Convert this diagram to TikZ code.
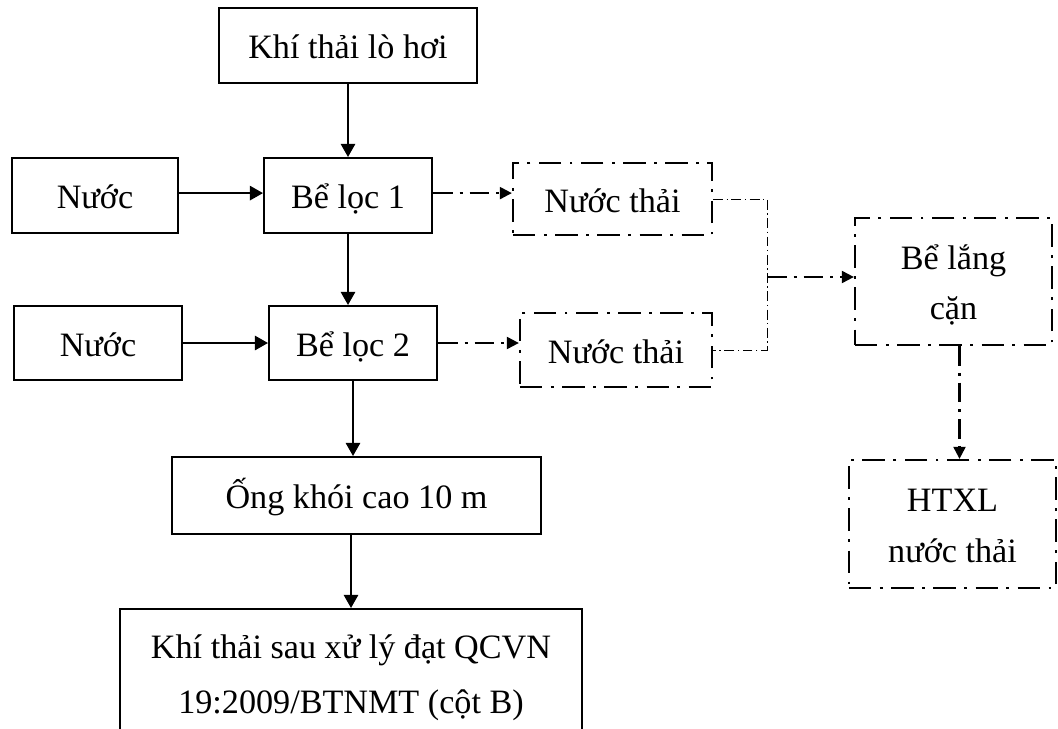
\documentclass[tikz,border=0pt]{standalone}
\usepackage{fontspec}
\setmainfont{Liberation Serif}
\usetikzlibrary{arrows.meta, positioning, calc}
\newcommand{\tstrut}{\rule[-0.14em]{0pt}{1.04em}}

\begin{document}
\begin{tikzpicture}[
  x=0.025cm, y=-0.025cm,
  font={\fontsize{24.3pt}{35.6pt}\selectfont},
  box/.style={draw, line width=1.4pt, inner sep=0pt, align=center},
  dashbox/.style={box, line width=1.6pt, dash pattern=on 16pt off 6pt on 2pt off 6pt},
  oneline/.style={text height=21.9pt, text depth=3.4pt},
  arr/.style={line width=1.4pt, -{Triangle[length=0.33cm, width=0.36cm]}},
  darr/.style={line width=1.5pt, dash pattern=on 14pt off 5pt on 2pt off 5pt,
    -{Triangle[length=0.3cm, width=0.3cm]}},
  link/.style={line width=0.7pt, dash pattern=on 7pt off 2.5pt on 1pt off 2.5pt},
]
\useasboundingbox (0,0) rectangle (1058,729);
\clip (0,0) rectangle (1058,729);

% main line
\node[box, oneline, minimum width=6.45cm, minimum height=1.875cm] (khi)  at (348,45.5) {Khí thải lò hơi};
\node[box, oneline, minimum width=4.15cm, minimum height=1.875cm] (nuoc1) at (95,195.5) {Nước};
\node[box, oneline, minimum width=4.2cm,  minimum height=1.875cm] (loc1) at (348,195.5) {Bể lọc 1};
\node[box, oneline, minimum width=4.2cm,  minimum height=1.85cm]  (nuoc2) at (98,343)   {Nước};
\node[box, oneline, minimum width=4.2cm,  minimum height=1.85cm]  (loc2) at (353,343)   {Bể lọc 2};
\node[box, oneline, minimum width=9.225cm, minimum height=1.925cm] (ong) at (356.5,495.5) {Ống khói cao 10 m};
\node[box, minimum width=11.55cm, minimum height=3.275cm, font={\fontsize{24.3pt}{39pt}\selectfont}]
  (kqua) at (351,674.5) {\tstrut Khí thải sau xử lý đạt QCVN\\19:2009/BTNMT (cột B)\tstrut};

% waste water line
\node[dashbox, oneline, minimum width=4.975cm, minimum height=1.8cm]  (nthai1) at (612.5,199) {Nước thải};
\node[dashbox, oneline, minimum width=4.8cm,   minimum height=1.85cm] (nthai2) at (616,350)   {Nước thải};
\node[dashbox, minimum width=4.925cm, minimum height=3.175cm] (lang) at (953.5,281.5) {\tstrut Bể lắng\\cặn\tstrut};
\node[dashbox, minimum width=5.175cm, minimum height=3.2cm]  (htxl) at (952.5,524) {\tstrut HTXL\\nước thải\tstrut};
\coordinate (jn) at (767,277);

\draw[arr] (khi) -- (loc1);
\draw[arr] ([yshift=0.06cm]nuoc1.east) -- ([yshift=0.06cm]loc1.west);
\draw[arr] (loc1.south) -- (loc1.south |- loc2.north);
\draw[arr] (nuoc2) -- (loc2);
\draw[arr] (loc2.south) -- (loc2.south |- ong.north);
\draw[arr] (kqua.north |- ong.south) -- (kqua.north);

\draw[darr] ([yshift=0.06cm]loc1.east) -- ([yshift=0.06cm]loc1.east -| nthai1.west);
\draw[darr] (loc2.east) -- (loc2.east -| nthai2.west);
\draw[link] (nthai1.east) -| (jn) |- (nthai2.east);
\draw[darr] (jn) -- (jn -| lang.west);
\draw[darr] ([xshift=0.15cm]lang.south) -- ([xshift=0.15cm]lang.south |- htxl.north);
\end{tikzpicture}
\end{document}
